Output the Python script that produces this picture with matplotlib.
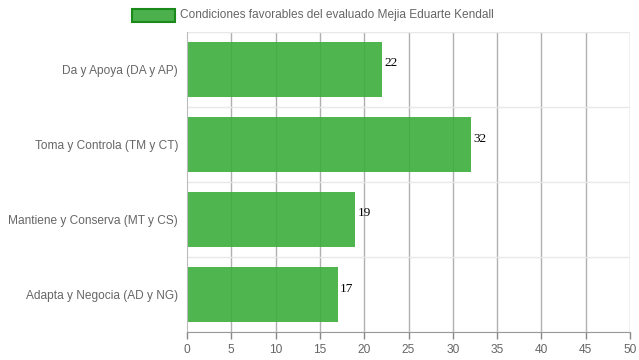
import matplotlib
matplotlib.use("Agg")
import matplotlib.pyplot as plt
from matplotlib.patches import Rectangle

categories = ["Da y Apoya (DA y AP)", "Toma y Controla (TM y CT)",
              "Mantiene y Conserva (MT y CS)", "Adapta y Negocia (AD y NG)"]
values = [22, 32, 19, 17]
series_name = "Condiciones favorables del evaluado Mejia Eduarte Kendall"
xticks = [0, 5, 10, 15, 20, 25, 30, 35, 40, 45, 50]

plt.rcParams['font.family'] = ['Liberation Sans', 'DejaVu Sans']

fig = plt.figure(figsize=(6.39, 3.6), dpi=100)
ax = fig.add_axes([187/639, 1-332/360, (630-187)/639, (332-32)/360])

n = len(categories)
ypos = list(range(n))
ax.set_ylim(n - 0.5, -0.5)
ax.set_xlim(0, 50)

# grid
for x in xticks[1:]:
    ax.axvline(x, color='#b0b0b0', lw=1, zorder=1)
for b in [i - 0.5 for i in range(n + 1)]:
    ax.axhline(b, color='#e8e8e8', lw=1, zorder=1)

ax.barh(ypos, values, height=0.73, color='#3cae3c', alpha=0.9, zorder=2, lw=0)
for y, v in zip(ypos, values):
    ax.text(v + 0.3, y - 0.08, str(v), va='center', ha='left',
            fontsize=9.5, family='Liberation Serif', color='black', zorder=3)

ax.set_xticks(xticks)
ax.set_yticks(ypos)
ax.set_yticklabels(categories)
ax.tick_params(axis='x', colors='#888888', labelcolor='#666666', labelsize=8.6, length=5, width=1)
ax.tick_params(axis='y', colors='#888888', labelcolor='#666666', labelsize=8.6, length=0, width=0, pad=6.3)
for s in ['top', 'right']:
    ax.spines[s].set_visible(False)
ax.spines['left'].set_color('#bbbbbb')
ax.spines['bottom'].set_color('#999999')

# legend
fig.patches.append(Rectangle((132/639, 1-22/360), 43/639, 13/360, transform=fig.transFigure,
                             facecolor='#4cb04c', edgecolor='#1a8a1a', lw=1.5))
fig.text(180/639, 1-15/360, series_name, va='center', ha='left', fontsize=8.6, color='#666666')

fig.savefig("out.png", dpi=100)
